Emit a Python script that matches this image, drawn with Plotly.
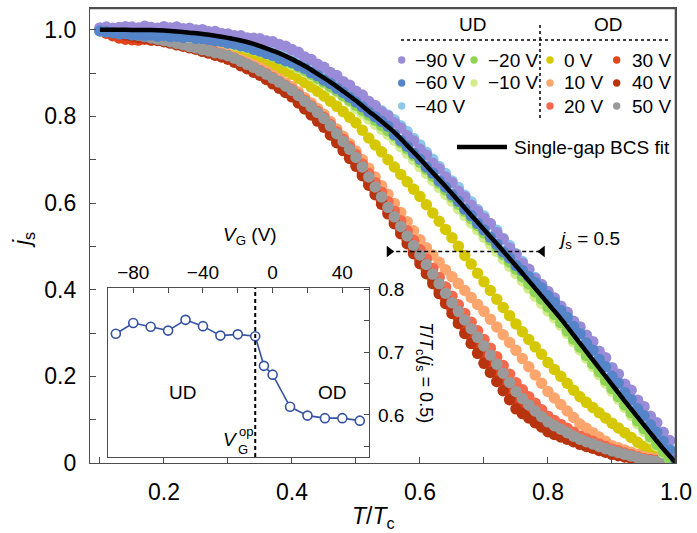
import plotly.graph_objects as go

# ---------------- data ----------------
T_DATA = [0.10, 0.11, 0.12, 0.13, 0.14, 0.15, 0.16, 0.17, 0.18, 0.19,
          0.20, 0.21, 0.22, 0.23, 0.24, 0.25, 0.26, 0.27, 0.28, 0.29,
          0.30, 0.31, 0.32, 0.33, 0.34, 0.35, 0.36, 0.37, 0.38, 0.39,
          0.40, 0.41, 0.42, 0.43, 0.44, 0.45, 0.46, 0.47, 0.48, 0.49,
          0.50, 0.51, 0.52, 0.53, 0.54, 0.55, 0.56, 0.57, 0.58, 0.59,
          0.60, 0.61, 0.62, 0.63, 0.64, 0.65, 0.66, 0.67, 0.68, 0.69,
          0.70, 0.71, 0.72, 0.73, 0.74, 0.75, 0.76, 0.77, 0.78, 0.79,
          0.80, 0.81, 0.82, 0.83, 0.84, 0.85, 0.86, 0.87, 0.88, 0.89,
          0.90, 0.91, 0.92, 0.93, 0.94, 0.95, 0.96, 0.97, 0.98, 0.99,
          1.00]

JS_M90 = [1.004, 1.006, 1.003, 1.005, 1.007, 1.006, 1.004, 1.008, 1.005, 1.003,
          1.007, 1.004, 1.006, 1.002, 1.003, 0.999, 1.000, 0.995, 0.996, 0.991,
          0.990, 0.986, 0.986, 0.981, 0.980, 0.979, 0.974, 0.972, 0.966, 0.962,
          0.954, 0.948, 0.937, 0.931, 0.920, 0.913, 0.901, 0.894, 0.880, 0.872,
          0.858, 0.849, 0.834, 0.825, 0.810, 0.801, 0.785, 0.773, 0.755, 0.743,
          0.724, 0.711, 0.692, 0.679, 0.660, 0.647, 0.627, 0.614, 0.595, 0.581,
          0.565, 0.552, 0.532, 0.517, 0.496, 0.482, 0.461, 0.447, 0.426, 0.412,
          0.396, 0.381, 0.362, 0.348, 0.327, 0.314, 0.295, 0.280, 0.258, 0.243,
          0.220, 0.205, 0.182, 0.168, 0.145, 0.130, 0.108, 0.093, 0.071, 0.052,
          0.018]

JS_M60 = [0.997, 0.995, 0.993, 0.990, 0.991, 0.988, 0.989, 0.986, 0.988, 0.985,
          0.987, 0.984, 0.985, 0.982, 0.983, 0.980, 0.979, 0.977, 0.974, 0.973,
          0.969, 0.967, 0.963, 0.960, 0.955, 0.951, 0.945, 0.941, 0.934, 0.929,
          0.925, 0.917, 0.911, 0.901, 0.894, 0.884, 0.876, 0.865, 0.855, 0.844,
          0.833, 0.822, 0.810, 0.799, 0.788, 0.777, 0.758, 0.744, 0.731, 0.715,
          0.701, 0.683, 0.669, 0.651, 0.637, 0.619, 0.604, 0.586, 0.571, 0.553,
          0.538, 0.521, 0.505, 0.487, 0.473, 0.456, 0.444, 0.430, 0.416, 0.404,
          0.386, 0.371, 0.352, 0.336, 0.315, 0.298, 0.277, 0.260, 0.239, 0.222,
          0.200, 0.184, 0.162, 0.146, 0.125, 0.109, 0.088, 0.071, 0.050, 0.030,
          0.006]

JS_M40 = [0.998, 0.996, 0.997, 0.994, 0.996, 0.993, 0.995, 0.992, 0.994, 0.991,
          0.993, 0.990, 0.991, 0.988, 0.988, 0.985, 0.984, 0.982, 0.980, 0.978,
          0.976, 0.974, 0.971, 0.968, 0.964, 0.961, 0.956, 0.952, 0.947, 0.942,
          0.937, 0.931, 0.924, 0.917, 0.909, 0.901, 0.892, 0.883, 0.874, 0.864,
          0.854, 0.844, 0.834, 0.823, 0.813, 0.803, 0.792, 0.778, 0.765, 0.749,
          0.734, 0.717, 0.701, 0.684, 0.668, 0.651, 0.636, 0.618, 0.603, 0.585,
          0.570, 0.552, 0.537, 0.518, 0.502, 0.483, 0.465, 0.446, 0.428, 0.410,
          0.393, 0.376, 0.358, 0.339, 0.320, 0.301, 0.281, 0.262, 0.241, 0.222,
          0.201, 0.182, 0.163, 0.145, 0.126, 0.108, 0.089, 0.070, 0.051, 0.032,
          0.010]

JS_M20 = [0.999, 1.000, 0.998, 0.999, 0.997, 0.998, 0.996, 0.997, 0.995, 0.995,
          0.993, 0.993, 0.990, 0.989, 0.986, 0.984, 0.981, 0.979, 0.976, 0.974,
          0.970, 0.967, 0.963, 0.959, 0.955, 0.950, 0.945, 0.939, 0.933, 0.926,
          0.922, 0.914, 0.906, 0.897, 0.888, 0.879, 0.869, 0.859, 0.848, 0.837,
          0.826, 0.814, 0.803, 0.791, 0.779, 0.767, 0.755, 0.740, 0.725, 0.710,
          0.694, 0.678, 0.662, 0.646, 0.630, 0.614, 0.597, 0.581, 0.564, 0.548,
          0.531, 0.515, 0.498, 0.481, 0.464, 0.447, 0.430, 0.413, 0.395, 0.378,
          0.360, 0.343, 0.324, 0.305, 0.286, 0.267, 0.248, 0.229, 0.210, 0.191,
          0.172, 0.153, 0.134, 0.116, 0.097, 0.079, 0.061, 0.043, 0.026, 0.011,
          0.000]

JS_M10 = [0.998, 0.999, 0.997, 0.998, 0.996, 0.997, 0.995, 0.996, 0.994, 0.994,
          0.990, 0.988, 0.986, 0.985, 0.982, 0.981, 0.979, 0.977, 0.975, 0.973,
          0.968, 0.965, 0.962, 0.958, 0.954, 0.949, 0.944, 0.939, 0.933, 0.926,
          0.919, 0.911, 0.903, 0.894, 0.885, 0.876, 0.866, 0.856, 0.845, 0.834,
          0.818, 0.806, 0.794, 0.782, 0.770, 0.758, 0.745, 0.730, 0.715, 0.700,
          0.684, 0.668, 0.652, 0.636, 0.620, 0.604, 0.587, 0.571, 0.554, 0.538,
          0.521, 0.505, 0.488, 0.471, 0.454, 0.437, 0.420, 0.403, 0.385, 0.368,
          0.351, 0.335, 0.318, 0.299, 0.280, 0.261, 0.242, 0.223, 0.204, 0.185,
          0.166, 0.147, 0.128, 0.110, 0.091, 0.073, 0.056, 0.040, 0.024, 0.010,
          0.000]

JS_0 = [1.000, 0.999, 0.998, 0.997, 0.996, 0.995, 0.993, 0.991, 0.990, 0.987,
        0.985, 0.982, 0.980, 0.976, 0.973, 0.970, 0.967, 0.963, 0.960, 0.956,
        0.952, 0.948, 0.944, 0.940, 0.935, 0.930, 0.924, 0.918, 0.911, 0.904,
        0.897, 0.888, 0.878, 0.868, 0.858, 0.847, 0.835, 0.823, 0.811, 0.798,
        0.785, 0.768, 0.750, 0.734, 0.718, 0.700, 0.683, 0.666, 0.649, 0.632,
        0.615, 0.596, 0.577, 0.558, 0.539, 0.520, 0.500, 0.479, 0.459, 0.438,
        0.418, 0.398, 0.378, 0.359, 0.340, 0.321, 0.303, 0.285, 0.268, 0.251,
        0.232, 0.216, 0.200, 0.184, 0.168, 0.153, 0.140, 0.128, 0.116, 0.104,
        0.092, 0.081, 0.070, 0.059, 0.048, 0.038, 0.030, 0.022, 0.014, 0.007,
        0.000]

JS_10 = [1.000, 0.999, 0.997, 0.995, 0.993, 0.990, 0.988, 0.986, 0.984, 0.982,
         0.980, 0.977, 0.973, 0.970, 0.966, 0.963, 0.959, 0.955, 0.951, 0.947,
         0.943, 0.937, 0.931, 0.925, 0.919, 0.912, 0.904, 0.895, 0.886, 0.877,
         0.868, 0.856, 0.843, 0.831, 0.818, 0.805, 0.788, 0.771, 0.754, 0.737,
         0.720, 0.700, 0.680, 0.660, 0.640, 0.620, 0.599, 0.578, 0.557, 0.536,
         0.515, 0.497, 0.480, 0.463, 0.446, 0.430, 0.414, 0.398, 0.382, 0.366,
         0.350, 0.332, 0.314, 0.296, 0.278, 0.260, 0.241, 0.222, 0.203, 0.184,
         0.165, 0.150, 0.135, 0.120, 0.105, 0.090, 0.080, 0.070, 0.060, 0.050,
         0.040, 0.035, 0.030, 0.025, 0.020, 0.015, 0.012, 0.009, 0.006, 0.003,
         0.000]

JS_20 = [1.000, 0.998, 0.996, 0.994, 0.992, 0.990, 0.988, 0.985, 0.983, 0.980,
         0.978, 0.974, 0.971, 0.967, 0.964, 0.960, 0.956, 0.952, 0.948, 0.944,
         0.940, 0.934, 0.927, 0.920, 0.913, 0.906, 0.898, 0.889, 0.880, 0.871,
         0.862, 0.850, 0.837, 0.824, 0.811, 0.798, 0.781, 0.764, 0.747, 0.730,
         0.712, 0.690, 0.668, 0.647, 0.625, 0.603, 0.581, 0.559, 0.536, 0.514,
         0.492, 0.471, 0.449, 0.428, 0.406, 0.385, 0.365, 0.345, 0.325, 0.305,
         0.285, 0.265, 0.245, 0.225, 0.205, 0.185, 0.169, 0.153, 0.138, 0.123,
         0.108, 0.098, 0.089, 0.080, 0.071, 0.062, 0.056, 0.050, 0.044, 0.038,
         0.032, 0.028, 0.023, 0.019, 0.014, 0.010, 0.008, 0.006, 0.004, 0.002,
         0.000]

JS_30 = [0.998, 0.992, 0.986, 0.981, 0.978, 0.977, 0.976, 0.978, 0.976, 0.977,
         0.975, 0.972, 0.969, 0.965, 0.962, 0.958, 0.954, 0.949, 0.945, 0.940,
         0.935, 0.928, 0.921, 0.914, 0.907, 0.900, 0.891, 0.881, 0.871, 0.861,
         0.850, 0.837, 0.823, 0.810, 0.796, 0.782, 0.764, 0.746, 0.728, 0.710,
         0.692, 0.670, 0.648, 0.626, 0.604, 0.582, 0.559, 0.536, 0.514, 0.491,
         0.468, 0.445, 0.423, 0.400, 0.378, 0.355, 0.334, 0.313, 0.292, 0.271,
         0.250, 0.230, 0.209, 0.189, 0.168, 0.148, 0.134, 0.121, 0.107, 0.094,
         0.080, 0.073, 0.066, 0.060, 0.053, 0.046, 0.041, 0.036, 0.032, 0.027,
         0.022, 0.019, 0.016, 0.012, 0.009, 0.006, 0.005, 0.004, 0.002, 0.001,
         0.000]

JS_40 = [0.999, 0.996, 0.993, 0.991, 0.988, 0.985, 0.982, 0.980, 0.977, 0.975,
         0.972, 0.969, 0.965, 0.962, 0.958, 0.955, 0.950, 0.946, 0.941, 0.937,
         0.932, 0.925, 0.917, 0.910, 0.902, 0.895, 0.885, 0.875, 0.865, 0.855,
         0.845, 0.831, 0.817, 0.803, 0.789, 0.775, 0.757, 0.739, 0.721, 0.703,
         0.685, 0.663, 0.641, 0.619, 0.597, 0.575, 0.552, 0.529, 0.506, 0.483,
         0.460, 0.437, 0.414, 0.391, 0.368, 0.345, 0.322, 0.299, 0.276, 0.253,
         0.230, 0.209, 0.188, 0.167, 0.146, 0.125, 0.114, 0.104, 0.093, 0.083,
         0.072, 0.066, 0.060, 0.055, 0.049, 0.043, 0.038, 0.034, 0.029, 0.025,
         0.020, 0.017, 0.014, 0.011, 0.008, 0.005, 0.004, 0.003, 0.002, 0.001,
         0.000]

JS_50 = [1.000, 0.998, 0.996, 0.994, 0.992, 0.990, 0.987, 0.984, 0.981, 0.978,
         0.975, 0.972, 0.968, 0.965, 0.961, 0.958, 0.954, 0.951, 0.947, 0.944,
         0.940, 0.934, 0.927, 0.920, 0.913, 0.905, 0.897, 0.888, 0.879, 0.870,
         0.860, 0.848, 0.835, 0.822, 0.809, 0.795, 0.778, 0.760, 0.742, 0.724,
         0.705, 0.683, 0.660, 0.637, 0.614, 0.590, 0.568, 0.546, 0.524, 0.502,
         0.480, 0.458, 0.436, 0.414, 0.392, 0.370, 0.350, 0.330, 0.310, 0.290,
         0.270, 0.249, 0.228, 0.207, 0.186, 0.165, 0.149, 0.134, 0.120, 0.107,
         0.095, 0.086, 0.078, 0.070, 0.062, 0.055, 0.049, 0.044, 0.038, 0.033,
         0.028, 0.024, 0.020, 0.016, 0.012, 0.008, 0.006, 0.004, 0.002, 0.001,
         0.000]

T_FIT = [0.10, 0.12, 0.14, 0.16, 0.18, 0.20, 0.22, 0.24, 0.26, 0.28,
         0.30, 0.32, 0.34, 0.36, 0.38, 0.40, 0.42, 0.44, 0.46, 0.48,
         0.50, 0.52, 0.54, 0.56, 0.58, 0.60, 0.62, 0.64, 0.66, 0.68,
         0.70, 0.72, 0.74, 0.76, 0.78, 0.80, 0.82, 0.84, 0.86, 0.88,
         0.90, 0.92, 0.94, 0.96, 0.98, 1.00]
JS_FIT = [1.000, 1.000, 1.000, 0.999, 0.999, 0.998, 0.996, 0.993, 0.990, 0.986,
          0.981, 0.975, 0.967, 0.957, 0.946, 0.932, 0.916, 0.898, 0.879, 0.858,
          0.836, 0.812, 0.788, 0.763, 0.733, 0.702, 0.670, 0.638, 0.605, 0.572,
          0.539, 0.506, 0.472, 0.438, 0.403, 0.368, 0.333, 0.295, 0.257, 0.219,
          0.181, 0.143, 0.106, 0.069, 0.033, 0.000]

SERIES_LABELS = ["−90 V", "−60 V", "−40 V", "−20 V", "−10 V",
                 "0 V", "10 V", "20 V", "30 V", "40 V", "50 V"]
SERIES_COLORS = ["#9a8bd9", "#5585c8", "#8cc8ea", "#8ed455", "#d4ec8c",
                 "#d6c800", "#fca66e", "#f4694c", "#e2441c", "#b8340f", "#9a9a9a"]

# inset: T/Tc at js = 0.5 versus gate voltage
INSET_VG = [-90, -80, -70, -60, -50, -40, -30, -20, -10, -5, 0, 10, 20, 30, 40, 50]
INSET_T05 = [0.729, 0.746, 0.740, 0.734, 0.751, 0.741, 0.726, 0.728, 0.725,
             0.678, 0.664, 0.613, 0.599, 0.595, 0.595, 0.591]
VG_OPT = -10

JS_LEVEL = 0.488
JS_SPAN = [0.552, 0.791]

X_RANGE = [0.0845, 1.0]
Y_RANGE = [0, 1.05]
X_TICKS = [0.2, 0.4, 0.6, 0.8, 1.0]
X_TICKTEXT = ["0.2", "0.4", "0.6", "0.8", "1.0"]
Y_TICKS = [0, 0.2, 0.4, 0.6, 0.8, 1.0]
Y_TICKTEXT = ["0", "0.2", "0.4", "0.6", "0.8", "1.0"]
INSET_X_TICKS = [-80, -40, 0, 40]
INSET_X_TICKTEXT = ["−80", "−40", "0", "40"]
INSET_Y_TICKS = [0.6, 0.7, 0.8]
INSET_Y_TICKTEXT = ["0.6", "0.7", "0.8"]

# ---------------- figure ----------------
FONT = "Liberation Sans, Arial, Helvetica, sans-serif"
AX = "#4d4d4d"
series = dict(zip(SERIES_LABELS, [JS_M90, JS_M60, JS_M40, JS_M20, JS_M10,
                                  JS_0, JS_10, JS_20, JS_30, JS_40, JS_50]))
colors = dict(zip(SERIES_LABELS, SERIES_COLORS))

fig = go.Figure()
draw_order = ["0 V", "10 V", "20 V", "30 V", "40 V", "50 V",
              "−10 V", "−20 V", "−40 V", "−90 V", "−60 V"]
for name in draw_order:
    fig.add_trace(go.Scatter(x=T_DATA, y=series[name], mode="markers", name=name,
                             marker=dict(size=11.5, color=colors[name], line=dict(width=0)),
                             xaxis="x", yaxis="y", showlegend=False))

fig.add_trace(go.Scatter(x=T_FIT, y=JS_FIT, mode="lines", line=dict(color="black", width=4.5, shape="spline"),
                         xaxis="x", yaxis="y", showlegend=False))

# top and right sides of the main frame, kept just inside the axis ranges
x_span = X_RANGE[1] - X_RANGE[0]
y_span = Y_RANGE[1] - Y_RANGE[0]
frame_x = [X_RANGE[0], X_RANGE[1] - x_span * 0.0011, X_RANGE[1] - x_span * 0.0011]
frame_y = [Y_RANGE[1] - y_span * 0.0014, Y_RANGE[1] - y_span * 0.0014, Y_RANGE[0]]
fig.add_trace(go.Scatter(x=frame_x, y=frame_y, mode="lines", line=dict(color=AX, width=1.3),
                         hoverinfo="skip", cliponaxis=False, xaxis="x", yaxis="y", showlegend=False))

# js = 0.5 dashed marker line
fig.add_trace(go.Scatter(x=JS_SPAN, y=[JS_LEVEL, JS_LEVEL], mode="lines+markers",
                         line=dict(color="black", width=1.6, dash="4px,3px"),
                         marker=dict(symbol=["triangle-right", "triangle-left"], size=10, color="black"),
                         xaxis="x", yaxis="y", showlegend=False))

# inset
fig.add_trace(go.Scatter(x=INSET_VG, y=INSET_T05, mode="lines+markers",
                         line=dict(color="#3653a3", width=1.6),
                         marker=dict(symbol="circle", size=9, color="white",
                                     line=dict(color="#3653a3", width=1.6)),
                         xaxis="x2", yaxis="y2", showlegend=False))


def pxx(px):
    return (px - 90) / 586


def pxy(py):
    return (463 - py) / 455


fig.update_layout(
    width=697, height=533,
    margin=dict(l=90, r=21, t=8, b=70, autoexpand=False),
    paper_bgcolor="white", plot_bgcolor="white",
    font=dict(family=FONT, color="black", size=19),
    xaxis=dict(range=X_RANGE, domain=[0, 1], showgrid=False, zeroline=False, automargin=False,
               showline=True, linecolor=AX, linewidth=1.3, mirror=True,
               ticks="inside", ticklen=6, tickcolor=AX, tickwidth=1.2,
               tickvals=X_TICKS, ticktext=X_TICKTEXT, tickfont=dict(size=23),
               ticklabelstandoff=8,
               minor=dict(dtick=0.1, tick0=0, ticks="inside", ticklen=6, tickcolor=AX, tickwidth=1.2)),
    yaxis=dict(range=Y_RANGE, domain=[0, 1], showgrid=False, zeroline=False, automargin=False,
               showline=True, linecolor=AX, linewidth=1.3, mirror=True,
               ticks="inside", ticklen=6, tickcolor=AX, tickwidth=1.2,
               tickvals=Y_TICKS, ticktext=Y_TICKTEXT, tickfont=dict(size=23),
               ticklabelstandoff=8,
               minor=dict(dtick=0.1, tick0=0, ticks="inside", ticklen=6, tickcolor=AX, tickwidth=1.2)),
    xaxis2=dict(domain=[pxx(108), pxx(369)], range=[-94.5, 55.3], anchor="y2", side="top",
                showgrid=False, zeroline=False, automargin=False,
                showline=True, linecolor=AX, linewidth=1.2,
                mirror=True, ticks="inside", ticklen=5, tickcolor=AX,
                tickvals=INSET_X_TICKS, ticktext=INSET_X_TICKTEXT, tickfont=dict(size=19),
                ticklabelstandoff=0,
                minor=dict(dtick=20, tick0=0, ticks="inside", ticklen=5, tickcolor=AX)),
    yaxis2=dict(domain=[pxy(457), pxy(288)], range=[0.5333, 0.8016], anchor="x2", side="right",
                showgrid=False, zeroline=False, automargin=False,
                showline=True, linecolor=AX, linewidth=1.2,
                mirror=True, ticks="inside", ticklen=5, tickcolor=AX,
                tickvals=INSET_Y_TICKS, ticktext=INSET_Y_TICKTEXT, tickfont=dict(size=19),
                ticklabelstandoff=4,
                minor=dict(dtick=0.05, tick0=0, ticks="inside", ticklen=5, tickcolor=AX)),
    showlegend=False,
)


def label(text, px, py, size=19, xanchor="center", textangle=0):
    return dict(text=text, x=pxx(px), y=pxy(py), xref="paper", yref="paper",
                xanchor=xanchor, yanchor="middle", showarrow=False,
                textangle=textangle, font=dict(size=size))


ann = []
# axis titles
ann.append(label("<i>T</i>/<i>T</i><sub>c</sub>", 373, 517, size=23))
ann.append(label("<i>j</i><sub>s</sub>", 24, 240, size=23, textangle=-90))
ann.append(label("<i>j</i><sub>s</sub> = 0.5", 556, 240, xanchor="left"))
# inset titles and labels
ann.append(label("<i>V</i><sub>G</sub> (V)", 250, 236))
ann.append(label("<i>T</i>/<i>T</i><sub>c</sub>(<i>j</i><sub>s</sub> = 0.5)", 425, 372, size=18, textangle=90))
ann.append(label("UD", 182, 392))
ann.append(label("OD", 332, 392))
ann.append(label("<i>V</i>", 230, 439))
ann.append(label("op", 246, 431, size=13))
ann.append(label("G", 243, 449, size=13))
# legend
ann.append(label("UD", 472, 25))
ann.append(label("OD", 608, 25))

shapes = []
col_x = [(401.7, 413.3), (474, 486), (550, 561.7), (616.7, 630)]
row_y = [60, 83, 106]
layout_cells = [(0, 0), (0, 1), (0, 2), (1, 0), (1, 1), (2, 0), (2, 1), (2, 2), (3, 0), (3, 1), (3, 2)]
for name, (c, r) in zip(SERIES_LABELS, layout_cells):
    mx, tx = col_x[c]
    y = row_y[r]
    shapes.append(dict(type="circle", xref="paper", yref="paper", xsizemode="pixel", ysizemode="pixel",
                       xanchor=pxx(mx), yanchor=pxy(y), x0=-3.7, x1=3.7, y0=-3.7, y1=3.7,
                       fillcolor=colors[name], line=dict(width=0)))
    ann.append(label(name, tx, y, xanchor="left"))

shapes.append(dict(type="line", xref="paper", yref="paper", x0=pxx(401), x1=pxx(670), y0=pxy(40), y1=pxy(40),
                   line=dict(color="black", width=1.5, dash="dot")))
shapes.append(dict(type="line", xref="paper", yref="paper", x0=pxx(540), x1=pxx(540), y0=pxy(118), y1=pxy(23),
                   line=dict(color="black", width=1.5, dash="dot")))
shapes.append(dict(type="line", xref="paper", yref="paper", x0=pxx(457), x1=pxx(507), y0=pxy(147), y1=pxy(147),
                   line=dict(color="black", width=4.5)))
ann.append(label("Single-gap BCS fit", 511.7, 147, xanchor="left"))
# V_G^op dashed line in inset
shapes.append(dict(type="line", xref="x2", yref="y2 domain", x0=VG_OPT, x1=VG_OPT, y0=0, y1=1,
                   line=dict(color="black", width=2, dash="4px,3px")))

fig.update_layout(annotations=ann, shapes=shapes)
fig.write_html("out.html", config={"displayModeBar": False},
               post_script="document.body.style.margin='0px';document.body.style.overflow='hidden';")
